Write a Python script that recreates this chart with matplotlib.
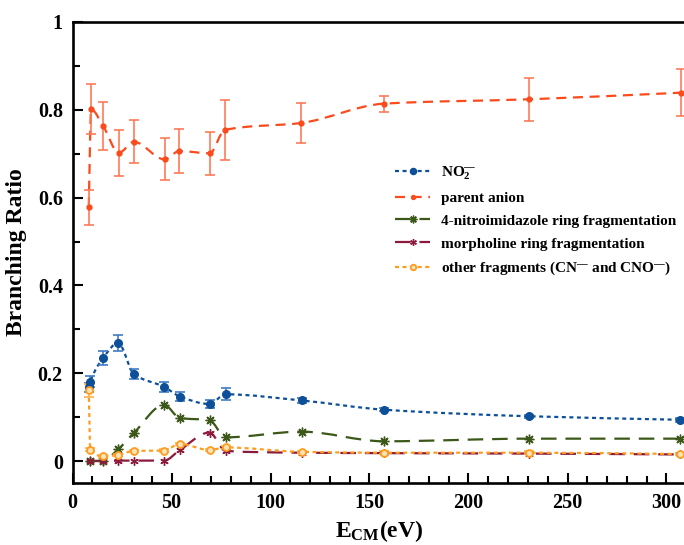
import numpy as np
import matplotlib
matplotlib.use('Agg')
from matplotlib import pyplot as plt
from matplotlib.path import Path
from matplotlib.patches import PathPatch
from matplotlib.lines import Line2D
from matplotlib.ticker import MultipleLocator, FuncFormatter

plt.rcParams['font.family'] = ['Liberation Serif', 'DejaVu Serif']
plt.rcParams['font.weight'] = 'bold'
plt.rcParams['mathtext.fontset'] = 'custom'
plt.rcParams['mathtext.rm'] = 'Liberation Serif:bold'
plt.rcParams['mathtext.bf'] = 'Liberation Serif:bold'
plt.rcParams['mathtext.it'] = 'Liberation Serif:bold:italic'

# collision energies (eV) and branching ratios
x_no2 = [8.2, 9.0, 15.5, 23.1, 31.0, 46.3, 54.2, 69.2, 77.3, 115.7, 157.2, 230.8, 307.0]
no2 = [0.168, 0.181, 0.235, 0.269, 0.198, 0.169, 0.147, 0.130, 0.152, 0.138, 0.117, 0.102, 0.094]
no2_err = [0.010, 0.012, 0.016, 0.019, 0.012, 0.012, 0.010, 0.010, 0.014, 0.006, 0.004, 0.004, 0.004]

x_parent = [8.2, 9.4, 15.5, 23.4, 31.0, 46.5, 53.9, 69.4, 76.8, 115.5, 157.2, 230.8, 307.5]
parent = [0.578, 0.801, 0.763, 0.702, 0.727, 0.687, 0.706, 0.701, 0.754, 0.770, 0.814, 0.824, 0.839]
parent_err = [0.040, 0.057, 0.055, 0.052, 0.049, 0.048, 0.050, 0.049, 0.068, 0.046, 0.018, 0.049, 0.054]

x_frag = [8.6, 15.5, 23.1, 31.0, 46.3, 54.2, 69.2, 77.3, 115.7, 157.2, 230.8, 307.0]
nitro = [0.0, 0.001, 0.027, 0.064, 0.128, 0.098, 0.093, 0.054, 0.067, 0.045, 0.051, 0.051]
morph = [0.0, 0.0, 0.001, 0.001, 0.001, 0.025, 0.065, 0.023, 0.019, 0.018, 0.017, 0.015]

x_other = [8.2, 9.0, 15.5, 23.1, 31.0, 46.3, 54.2, 69.2, 77.3, 115.7, 157.2, 230.8, 307.0]
other = [0.161, 0.026, 0.011, 0.014, 0.023, 0.024, 0.039, 0.025, 0.031, 0.021, 0.019, 0.019, 0.016]
other_err = [0.015, 0.004, 0.003, 0.003, 0.003, 0.003, 0.003, 0.003, 0.003, 0.003, 0.003, 0.003, 0.003]

labels = [r'NO$_{2}^{\mathbf{—}}$',
          'parent anion',
          '4-nitroimidazole ring fragmentation',
          'morpholine ring fragmentation',
          r'other fragments (CN$^{\mathbf{—}}$ and CNO$^{\mathbf{—}}$)']


def spline_path(x, y):
    # monotone cubic (Fritsch-Carlson) segments written as Bezier curves
    x = np.asarray(x, float)
    y = np.asarray(y, float)
    h = np.diff(x)
    d = np.diff(y) / h
    m = np.zeros_like(y)
    for i in range(1, len(x) - 1):
        if d[i - 1] * d[i] > 0:
            w1 = 2 * h[i] + h[i - 1]
            w2 = h[i] + 2 * h[i - 1]
            m[i] = (w1 + w2) / (w1 / d[i - 1] + w2 / d[i])
    m[0] = d[0]
    m[-1] = d[-1]
    verts = [(x[0], y[0])]
    codes = [Path.MOVETO]
    for i in range(len(x) - 1):
        verts += [(x[i] + h[i] / 3, y[i] + m[i] * h[i] / 3),
                  (x[i + 1] - h[i] / 3, y[i + 1] - m[i + 1] * h[i] / 3),
                  (x[i + 1], y[i + 1])]
        codes += [Path.CURVE4] * 3
    return Path(verts, codes)


fig = plt.figure(figsize=(6.84, 5.45), dpi=100)
ax = fig.add_axes((72.5 / 684, 62 / 545, 613.8 / 684, 461 / 545))

styles = [
    dict(color='#0d4f98', ls=(0, (1.8, 1.6)), marker='o', ms=5.5, mfc='#0d4f98', mec='#0d4f98', mew=1),
    dict(color='#fb4a1c', ls=(0, (4.5, 3)), marker='o', ms=3.5, mfc='#fb4a1c', mec='#fb4a1c', mew=1),
    dict(color='#3c5818', ls=(0, (7, 4)), marker=(8, 2, 0), ms=7, mfc='#3c5818', mec='#3c5818', mew=1),
    dict(color='#8c1a3c', ls=(0, (7, 4)), marker=(6, 2, 0), ms=6, mfc='#8c1a3c', mec='#8c1a3c', mew=1),
    dict(color='#ff9c1e', ls=(0, (1.8, 1.6)), marker='o', ms=5, mfc='#ffe3b8', mec='#ff9c1e', mew=1.3),
]
ecolors = ['#3e7cc4', '#ff7a58', None, None, '#ffb04a']

series = [(x_no2, no2, no2_err), (x_parent, parent, parent_err),
          (x_frag, nitro, None), (x_frag, morph, None), (x_other, other, other_err)]

for k, (xs, ys, err) in enumerate(series):
    st = styles[k]
    patch = PathPatch(spline_path(xs, ys), fill=False, edgecolor=st['color'],
                      lw=1.6, linestyle=st['ls'], zorder=2 + k * 0.1)
    ax.add_patch(patch)
    if err is not None:
        ax.errorbar(xs, ys, yerr=err, fmt='none', ecolor=ecolors[k], elinewidth=1.2,
                    capsize=3.6, capthick=1.2, zorder=2.5 + k * 0.1)
    ax.plot(xs, ys, ls='none', marker=st['marker'], ms=st['ms'], mfc=st['mfc'],
            mec=st['mec'], mew=st['mew'], zorder=3 + k * 0.1)

handles = [Line2D([], [], color=s['color'], ls=s['ls'], lw=1.6, marker=s['marker'],
                  ms=s['ms'] * 0.8, mfc=s['mfc'], mec=s['mec'], mew=s['mew'])
           for s in styles]
ax.legend(handles, labels, loc='upper left', bbox_to_anchor=(0.578, 0.698),
          bbox_transform=fig.transFigure, frameon=False,
          handlelength=2.3, handletextpad=0.7, labelspacing=0.6, borderpad=0,
          borderaxespad=0, prop={'weight': 'bold', 'size': 11})

ax.set_xlim(0, 310)
ax.set_ylim(-0.05, 1.0)
ax.xaxis.set_major_locator(MultipleLocator(50))
ax.xaxis.set_minor_locator(MultipleLocator(10))
ax.yaxis.set_major_locator(MultipleLocator(0.2))
ax.yaxis.set_minor_locator(MultipleLocator(0.1))
ax.yaxis.set_major_formatter(FuncFormatter(lambda v, p: '%g' % round(v, 2)))

ax.tick_params(which='both', direction='in', top=False, right=False, width=1.5,
               labelsize=14.5, pad=7)
ax.tick_params(which='major', length=7.5)
ax.tick_params(which='minor', length=5)
for lab in ax.get_xticklabels() + ax.get_yticklabels():
    lab.set_fontweight('bold')
for sp in ax.spines.values():
    sp.set_linewidth(1.9)

ax.set_ylabel('Branching Ratio', fontsize=17, fontweight='bold', labelpad=8)
ax.set_xlabel(r'E$_{\mathbf{CM}}$(eV)', fontsize=17, fontweight='bold', labelpad=4)

fig.savefig('out.png', dpi=100)
